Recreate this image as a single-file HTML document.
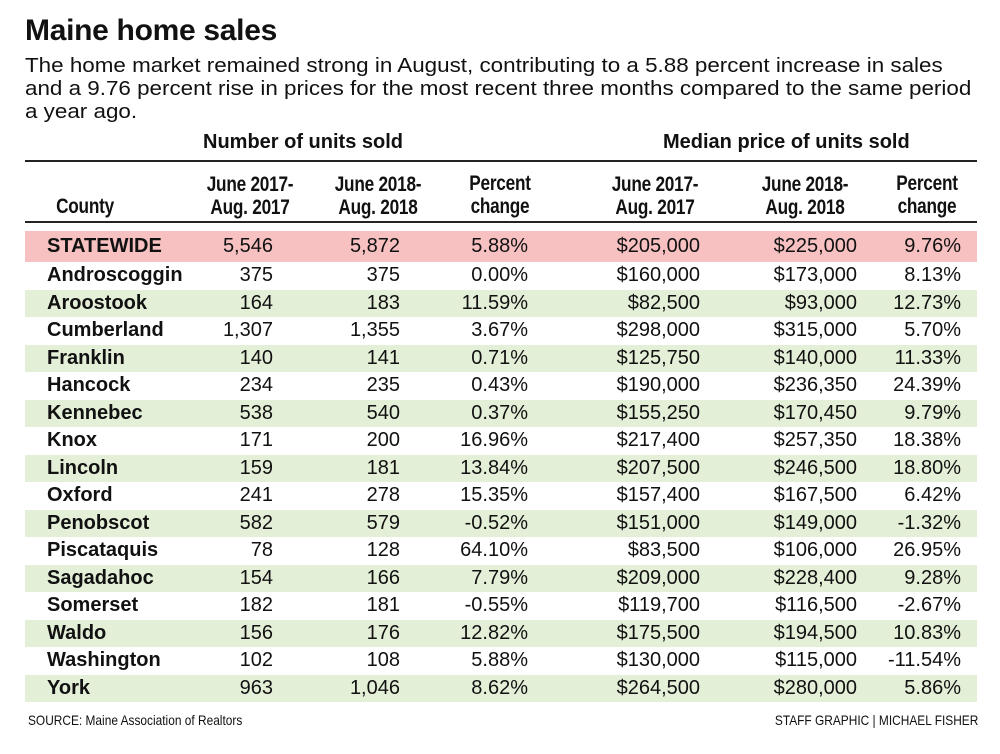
<!DOCTYPE html>
<html><head><meta charset="utf-8"><style>
*{margin:0;padding:0}
body{width:1000px;height:754px;background:#fff;position:relative;overflow:hidden;font-family:"Liberation Sans",sans-serif;color:#111}
.a{position:absolute;white-space:nowrap}
h1{position:absolute;left:25px;top:14px;font-size:30px;font-weight:bold;letter-spacing:-0.3px}
.sub{position:absolute;left:25px;top:55px;font-size:20px;line-height:23px;white-space:nowrap;transform:scaleX(1.12);transform-origin:left top}
.grp{font-size:20px;font-weight:bold;top:131px}
.line{position:absolute;left:25px;width:952px;height:2px;background:#222}
.hd{font-family:"Liberation Sans Narrow","Liberation Sans",sans-serif;font-weight:bold;font-size:21px;line-height:23px;text-align:center;transform:scaleX(0.82);letter-spacing:-0.3px}
.row{position:absolute;left:25px;width:952px;height:27.5px;font-size:20px;line-height:27.5px}
.row span{position:absolute;top:0}
.c0{left:22px;font-weight:bold}
.r{text-align:right}
.pink{background:#f7c1c2}
.green{background:#e4efd8}
.foot{font-size:14px;top:712px;font-family:"Liberation Sans Narrow","Liberation Sans",sans-serif;transform:scaleX(0.85)}
</style></head><body>
<h1>Maine home sales</h1>
<div class="sub">The home market remained strong in August, contributing to a 5.88 percent increase in sales<br>and a 9.76 percent rise in prices for the most recent three months compared to the same period<br>a year ago.</div>
<div class="a grp" style="left:203px">Number of units sold</div>
<div class="a grp" style="left:663px">Median price of units sold</div>
<div class="line" style="top:160px"></div>
<div class="line" style="top:221px"></div>
<div class="a hd" style="left:45px;top:195px;width:80px">County</div>
<div class="a hd" style="left:195px;top:173px;width:110px">June 2017-<br>Aug. 2017</div>
<div class="a hd" style="left:323px;top:173px;width:110px">June 2018-<br>Aug. 2018</div>
<div class="a hd" style="left:450px;top:172px;width:100px">Percent<br>change</div>
<div class="a hd" style="left:600px;top:173px;width:110px">June 2017-<br>Aug. 2017</div>
<div class="a hd" style="left:750px;top:173px;width:110px">June 2018-<br>Aug. 2018</div>
<div class="a hd" style="left:877px;top:172px;width:100px">Percent<br>change</div>
<div id="rows"></div>
<div class="a foot" style="left:28px;transform-origin:left">SOURCE: Maine Association of Realtors</div>
<div class="a foot" style="right:22px;transform-origin:right">STAFF GRAPHIC | MICHAEL FISHER</div>
<script>
var d=[["STATEWIDE","5,546","5,872","5.88%","$205,000","$225,000","9.76%"],
["Androscoggin","375","375","0.00%","$160,000","$173,000","8.13%"],
["Aroostook","164","183","11.59%","$82,500","$93,000","12.73%"],
["Cumberland","1,307","1,355","3.67%","$298,000","$315,000","5.70%"],
["Franklin","140","141","0.71%","$125,750","$140,000","11.33%"],
["Hancock","234","235","0.43%","$190,000","$236,350","24.39%"],
["Kennebec","538","540","0.37%","$155,250","$170,450","9.79%"],
["Knox","171","200","16.96%","$217,400","$257,350","18.38%"],
["Lincoln","159","181","13.84%","$207,500","$246,500","18.80%"],
["Oxford","241","278","15.35%","$157,400","$167,500","6.42%"],
["Penobscot","582","579","-0.52%","$151,000","$149,000","-1.32%"],
["Piscataquis","78","128","64.10%","$83,500","$106,000","26.95%"],
["Sagadahoc","154","166","7.79%","$209,000","$228,400","9.28%"],
["Somerset","182","181","-0.55%","$119,700","$116,500","-2.67%"],
["Waldo","156","176","12.82%","$175,500","$194,500","10.83%"],
["Washington","102","108","5.88%","$130,000","$115,000","-11.54%"],
["York","963","1,046","8.62%","$264,500","$280,000","5.86%"]];
var rights=[273,400,528,700,857,961],h="";
d.forEach(function(r,i){
 var top=i==0?231:262+27.5*(i-1), ht=i==0?31:27.5;
 var cls=i==0?"pink":(i%2==0?"green":"");
 h+='<div class="row '+cls+'" style="top:'+top+'px;height:'+ht+'px;line-height:'+ht+'px"><span class="c0">'+r[0]+'</span>';
 for(var j=1;j<7;j++)h+='<span class="r" style="right:'+(977-rights[j-1])+'px">'+r[j]+'</span>';
 h+='</div>';
});
document.getElementById("rows").innerHTML=h;
</script>
</body></html>
